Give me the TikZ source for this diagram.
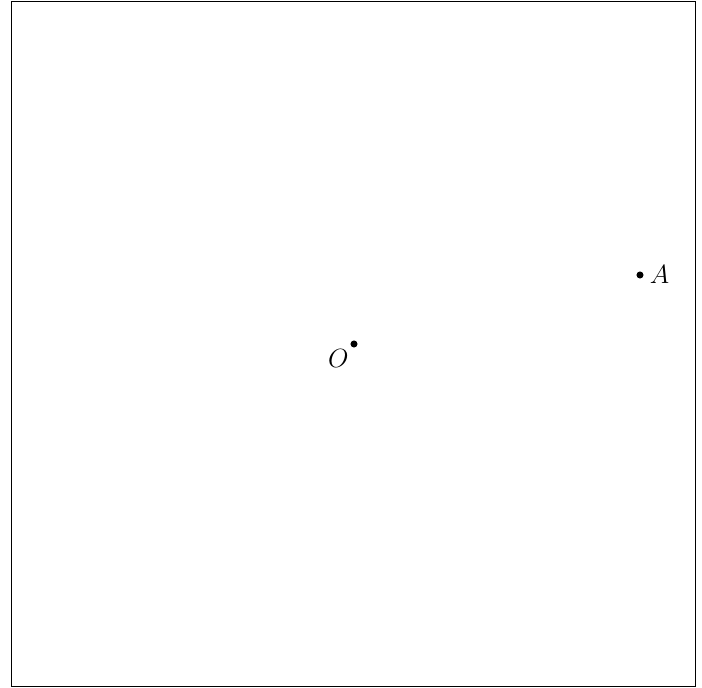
\documentclass[tikz,border=0pt]{standalone}
\usepackage{amsmath, amssymb}
\begin{document}
\begin{tikzpicture}[x=0.016cm, y=-0.016cm, font=\large]
  \useasboundingbox (0,0) rectangle (702,688);
  % outer frame
  \draw (11,1.5) rectangle (695,686);

  % the two points
  \coordinate (O) at (354,344);
  \coordinate (A) at (640,275);
  \fill (O) circle (1.6pt);
  \fill (A) circle (1.6pt);

  % labels
  \node[below left=-1pt] (labelO) at (O) {$O$};
  \node[right=1pt] (labelA) at (A) {$A$};
\end{tikzpicture}
\end{document}
